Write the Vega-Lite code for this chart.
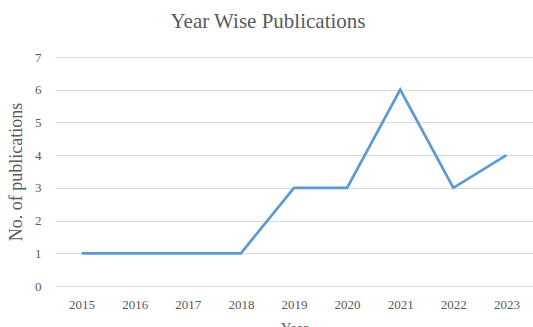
{
  "$schema": "https://vega.github.io/schema/vega-lite/v6.json",
  "autosize": "none",
  "width": 478,
  "height": 229,
  "padding": {"left": 55, "top": 57, "right": 0, "bottom": 41},
  "background": "white",
  "title": {
    "text": "Year Wise Publications",
    "font": "Liberation Serif",
    "fontSize": 21,
    "fontWeight": "normal",
    "color": "#595959",
    "anchor": "middle",
    "dx": -26,
    "offset": 19
  },
  "data": {
    "values": [
      {"year": "2015", "n": 1},
      {"year": "2016", "n": 1},
      {"year": "2017", "n": 1},
      {"year": "2018", "n": 1},
      {"year": "2019", "n": 3},
      {"year": "2020", "n": 3},
      {"year": "2021", "n": 6},
      {"year": "2022", "n": 3},
      {"year": "2023", "n": 4}
    ]
  },
  "mark": {"type": "line", "color": "#5B9BD5", "strokeWidth": 2.75},
  "encoding": {
    "x": {
      "field": "year",
      "type": "ordinal",
      "scale": {"type": "point", "padding": 0.5},
      "axis": {
        "title": "Year",
        "titleFont": "Liberation Serif",
        "titleFontSize": 15,
        "titleFontWeight": "normal",
        "titleColor": "#595959",
        "titlePadding": 9,
        "labelFont": "Liberation Serif",
        "labelFontSize": 13,
        "labelColor": "#595959",
        "labelAngle": 0,
        "labelPadding": 12,
        "labelOverlap": false,
        "domain": false,
        "ticks": false,
        "grid": false
      }
    },
    "y": {
      "field": "n",
      "type": "quantitative",
      "scale": {"domain": [0, 7]},
      "axis": {
        "title": "No. of publications",
        "titleFont": "Liberation Serif",
        "titleFontSize": 18,
        "titleFontWeight": "normal",
        "titleColor": "#595959",
        "titlePadding": 9,
        "labelFont": "Liberation Serif",
        "labelFontSize": 13,
        "labelColor": "#595959",
        "labelPadding": 14,
        "labelOverlap": false,
        "values": [0, 1, 2, 3, 4, 5, 6, 7],
        "domain": false,
        "ticks": false,
        "grid": true,
        "gridColor": "#d9d9d9",
        "gridWidth": 1
      }
    }
  },
  "config": {"view": {"stroke": null}}
}
